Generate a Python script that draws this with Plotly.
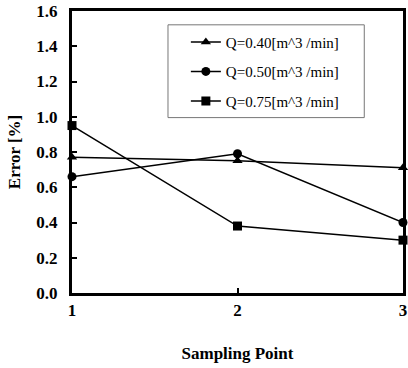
import plotly.graph_objects as go

# Sampling points and measured error for each flow rate
sampling_points = [1, 2, 3]
err_q040 = [0.77, 0.75, 0.71]
err_q050 = [0.66, 0.79, 0.40]
err_q075 = [0.95, 0.38, 0.30]

series_names = ["Q=0.40[m^3 /min]", "Q=0.50[m^3 /min]", "Q=0.75[m^3 /min]"]
series_values = [err_q040, err_q050, err_q075]
series_symbols = ["triangle-up", "circle", "square"]

y_ticks = [0.0, 0.2, 0.4, 0.6, 0.8, 1.0, 1.2, 1.4, 1.6]
x_ticks = [1, 2, 3]

serif = "Liberation Serif"

fig = go.Figure()
for i, (name, vals, sym) in enumerate(zip(series_names, series_values, series_symbols)):
    fig.add_trace(go.Scatter(
        x=sampling_points, y=vals, name=name, mode="lines+markers",
        line=dict(color="black", width=1.5),
        marker=dict(symbol=sym, size=9, color="black"),
        cliponaxis=False, legendgroup=f"g{i}",
    ))

# Framed box behind the legend entries
fig.add_shape(
    type="rect", xref="paper", yref="paper",
    x0=0.290, x1=0.883, y0=0.622, y1=0.951,
    line=dict(color="#777", width=1), fillcolor="white", layer="above",
)

fig.update_layout(
    width=408, height=368,
    margin=dict(l=72, r=2, t=10, b=75),
    paper_bgcolor="white", plot_bgcolor="white",
    font=dict(family=serif, color="black"),
    showlegend=True,
    legend=dict(
        x=0.344, y=0.948, xanchor="left", yanchor="top",
        borderwidth=0, bgcolor="rgba(0,0,0,0)",
        font=dict(family=serif, size=15, color="black"),
        traceorder="grouped", tracegroupgap=7,
    ),
    xaxis=dict(
        range=[1, 3], tickvals=x_ticks, ticktext=[str(v) for v in x_ticks],
        showline=True, linecolor="black", linewidth=3, mirror=True,
        ticks="inside", ticklen=5, tickwidth=2, tickcolor="black",
        showgrid=False, zeroline=False,
        tickfont=dict(family=serif, size=17, color="black", weight="bold"),
        title=dict(text="Sampling Point", font=dict(family=serif, size=17, weight="bold"), standoff=28),
    ),
    yaxis=dict(
        range=[0, 1.6], tickvals=y_ticks, ticktext=[f"{v:.1f}" for v in y_ticks],
        showline=True, linecolor="black", linewidth=3, mirror=True,
        ticks="inside", ticklen=5, tickwidth=2, tickcolor="black",
        showgrid=False, zeroline=False, ticklabelstandoff=8,
        tickfont=dict(family=serif, size=17, color="black", weight="bold"),
        title=dict(text="Error [%]", font=dict(family=serif, size=17, weight="bold"), standoff=12),
    ),
)

fig.write_html("out.html")
